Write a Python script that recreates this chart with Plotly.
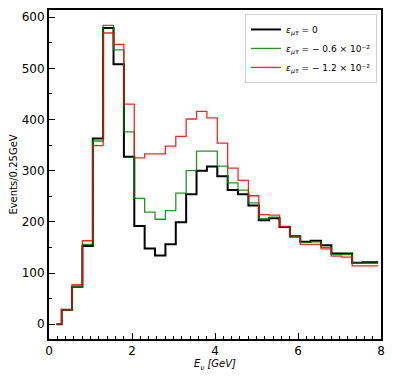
import plotly.graph_objects as go

# bin centres (GeV)
energy = [0.18 + 0.25 * k for k in range(32)]

events_eps0 = [0, 28, 73, 153, 363, 579, 508, 327, 192, 148, 134, 156, 199, 254, 300, 308,
               289, 262, 254, 232, 203, 207, 190, 172, 161, 163, 154, 138, 138, 120, 121, 121]
events_eps06 = [0, 28, 74, 156, 358, 584, 536, 376, 246, 219, 205, 222, 256, 300, 338, 338,
                309, 276, 262, 237, 206, 209, 190, 171, 160, 161, 150, 136, 136, 119, 119, 119]
events_eps12 = [0, 28, 77, 163, 349, 569, 547, 430, 325, 333, 333, 348, 367, 401, 416, 403,
                354, 305, 281, 251, 214, 213, 191, 170, 156, 156, 147, 133, 131, 114, 114, 114]

labels = ["<i>ε<sub>μτ</sub></i> = 0",
          "<i>ε<sub>μτ</sub></i> = − 0.6 × 10⁻²",
          "<i>ε<sub>μτ</sub></i> = − 1.2 × 10⁻²"]

fig = go.Figure()
fig.add_trace(go.Scatter(x=energy, y=events_eps0, mode="lines", line_shape="hvh",
                         line=dict(color="black", width=2), name=labels[0]))
fig.add_trace(go.Scatter(x=energy, y=events_eps06, mode="lines", line_shape="hvh",
                         line=dict(color="rgba(0,128,0,0.85)", width=1.3), name=labels[1]))
fig.add_trace(go.Scatter(x=energy, y=events_eps12, mode="lines", line_shape="hvh",
                         line=dict(color="rgba(255,0,0,0.85)", width=1.3), name=labels[2]))

axis_common = dict(showline=True, linewidth=2, linecolor="black", mirror=True,
                   ticks="inside", ticklen=6, tickwidth=1.3, tickcolor="black",
                   showgrid=False, zeroline=False,
                   tickfont=dict(family="DejaVu Sans", size=12, color="black"))

fig.update_xaxes(range=[0, 8], dtick=2, tick0=0,
                 minor=dict(ticks="inside", dtick=0.2, ticklen=3, tickwidth=1, tickcolor="black"),
                 title=dict(text="<i>E<sub>ν</sub> [GeV]</i>", standoff=2,
                            font=dict(family="DejaVu Sans", size=10, color="black")),
                 **axis_common)
fig.update_yaxes(range=[-29, 614], dtick=100, tick0=0,
                 minor=dict(ticks="inside", dtick=50, ticklen=3, tickwidth=1, tickcolor="black"),
                 title=dict(text="Events/0.25GeV", standoff=6,
                            font=dict(family="DejaVu Sans", size=10, color="black")),
                 **axis_common)

# the page body has an 8px margin, so the figure is sized to fit the window
fig.update_layout(
    width=385, height=368,
    margin=dict(l=41, r=12, t=0, b=37),
    plot_bgcolor="white", paper_bgcolor="white",
    legend=dict(x=0.988, y=0.988, xanchor="right", yanchor="top",
                bgcolor="rgba(255,255,255,0.8)", bordercolor="#d0d0d0", borderwidth=1,
                font=dict(family="DejaVu Sans", size=9, color="black"),
                itemwidth=30, tracegroupgap=0),
)

fig.write_html("out.html")
